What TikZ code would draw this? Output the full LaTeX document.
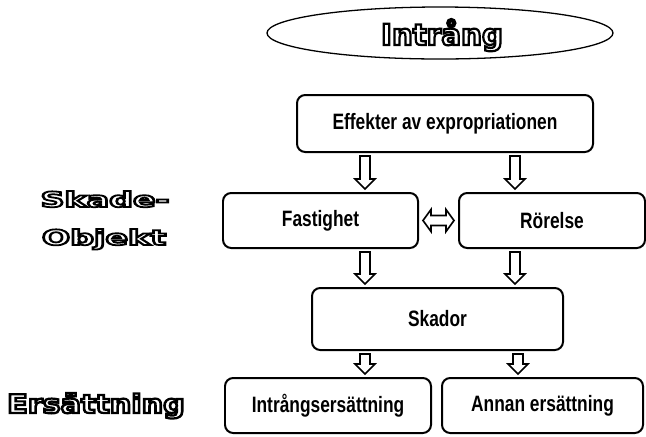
\documentclass[tikz,border=0pt]{standalone}
\usepackage{fontspec}
\usepackage{graphicx}
\usetikzlibrary{calc, shapes.geometric}
\newfontfamily\boxfont[FakeStretch=0.78]{Liberation Sans}
\newfontfamily\tagfont{DejaVu Sans}
\newcommand{\outl}[2][1.9]{\special{pdf:literal direct 1 Tr #1 w}#2\special{pdf:literal direct 0 Tr 1 w}}
\newcommand{\pxl}{0.03cm}
\tikzset{
  blk/.style={draw, line width=1.7pt, rounded corners=7pt, inner sep=0pt,
    font=\boxfont\bfseries\fontsize{19}{21}\selectfont},
  tag/.style={inner sep=0pt, anchor=base, font=\tagfont\bfseries},
  down/.style={draw, fill=white, line width=1.4pt, to path={
      let \p1=($(\tikztostart)!0.09cm!(\tikztotarget)$),
          \p2=($(\tikztotarget)!0.09cm!(\tikztostart)$),
          \p3=($(\p2)!0.3cm!(\p1)$) in
      ($(\p1)!0.15cm!90:(\p2)$) -- ($(\p3)!0.15cm!90:(\p2)$) -- ($(\p3)!0.3cm!90:(\p2)$) -- (\p2)
      -- ($(\p3)!0.3cm!-90:(\p2)$) -- ($(\p3)!0.15cm!-90:(\p2)$) -- ($(\p1)!0.15cm!-90:(\p2)$) -- cycle}},
  both/.style={draw, fill=white, line width=1.4pt, to path={
      let \p1=($(\tikztostart)!0.12cm!(\tikztotarget)$),
          \p2=($(\tikztotarget)!0.12cm!(\tikztostart)$),
          \p3=($(\p2)!0.24cm!(\p1)$),
          \p4=($(\p1)!0.24cm!(\p2)$) in
      (\p1) -- ($(\p4)!0.33cm!90:(\p2)$) -- ($(\p4)!0.15cm!90:(\p2)$) -- ($(\p3)!0.15cm!90:(\p2)$)
      -- ($(\p3)!0.33cm!90:(\p2)$) -- (\p2) -- ($(\p3)!0.33cm!-90:(\p2)$) -- ($(\p3)!0.15cm!-90:(\p2)$)
      -- ($(\p4)!0.15cm!-90:(\p2)$) -- ($(\p4)!0.33cm!-90:(\p2)$) -- cycle}}
}
\begin{document}
\begin{tikzpicture}[x=0.03cm, y=-0.03cm]
\useasboundingbox (0,0) rectangle (646,436);
\node[draw, ellipse, line width=1.1pt, minimum width=346*\pxl, minimum height=52*\pxl] (ell) at (440,33) {};
\node[tag] (intr) at (442,45) {\fontsize{25}{28}\selectfont\outl{Intrång}};

\node[tag] (sk) at (105,207) {\fontsize{18}{20}\selectfont\scalebox{1.58}[1]{\outl[1.5]{Skade-}}};
\node[tag] (ob) at (104,245) {\fontsize{18}{20}\selectfont\scalebox{1.58}[1]{\outl[1.5]{Objekt}}};
\node[tag] (er) at (96,413) {\fontsize{22}{24}\selectfont\scalebox{1.17}[1]{\outl{Ersättning}}};

\node[blk, minimum width=296*\pxl, minimum height=57*\pxl] (eff) at (445,123.5) {Effekter av expropriationen};
\node[blk, minimum width=195*\pxl, minimum height=55*\pxl] (fast) at (320.5,220.5) {Fastighet};
\node[blk, minimum width=186*\pxl, minimum height=55*\pxl] (ror) at (552,220.5) {Rörelse};
\node[blk, minimum width=251*\pxl, minimum height=62*\pxl] (skad) at (437.5,319) {Skador};
\node[blk, minimum width=206*\pxl, minimum height=55*\pxl] (ers) at (328,405.5) {Intrångsersättning};
\node[blk, minimum width=201*\pxl, minimum height=55*\pxl] (ann) at (542.5,405.5) {Annan ersättning};

\coordinate (cl) at (365,0);
\coordinate (cr) at (515,0);
\coordinate (cr2) at (518,0);
\draw[down] (eff.south -| cl) to (fast.north -| cl);
\draw[down] (eff.south -| cr) to (ror.north -| cr);
\draw[down] (fast.south -| cl) to (skad.north -| cl);
\draw[down] (ror.south -| cr) to (skad.north -| cr);
\draw[down] (skad.south -| cl) to (ers.north -| cl);
\draw[down] (skad.south -| cr2) to (ann.north -| cr2);
\draw[both] (fast.east) to (ror.west);
\end{tikzpicture}
\end{document}
